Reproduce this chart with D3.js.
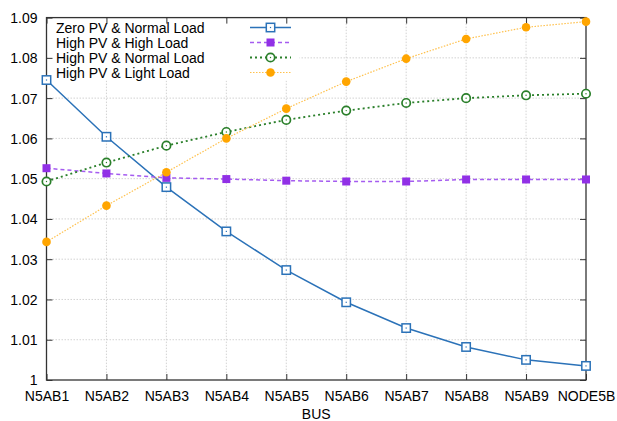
<!DOCTYPE html>
<html><head><meta charset="utf-8">
<script src="https://cdn.jsdelivr.net/npm/d3@7"></script>
<style>
html,body{margin:0;padding:0;background:#fff;}
text{font-family:"Liberation Sans",Arial,Helvetica,sans-serif;}
</style></head>
<body><svg id="chart" width="617" height="421"></svg>
<script>
const categories = ["N5AB1","N5AB2","N5AB3","N5AB4","N5AB5","N5AB6","N5AB7","N5AB8","N5AB9","NODE5B"];
const zeroPvNormal = [1.0745,1.0604,1.0479,1.0369,1.0273,1.0193,1.0129,1.0082,1.0050,1.0035];
const highPvHigh   = [1.0526,1.0513,1.0502,1.0499,1.0495,1.0493,1.0493,1.0498,1.0498,1.0498];
const highPvNormal = [1.0493,1.0540,1.0582,1.0616,1.0646,1.0669,1.0688,1.0700,1.0707,1.0711];
const highPvLight  = [1.0343,1.0433,1.0516,1.0600,1.0674,1.0741,1.0798,1.0847,1.0876,1.0890];
const yTicks = [1.00,1.01,1.02,1.03,1.04,1.05,1.06,1.07,1.08,1.09];
const seriesNames = ["Zero PV & Normal Load","High PV & High Load","High PV & Normal Load","High PV & Light Load"];
const xTitle = "BUS";

const series = [
  {name:seriesNames[0], values:zeroPvNormal, color:"#2b72b8", lineColor:"#2b72b8", dash:null, lw:1.5, marker:"openSquare"},
  {name:seriesNames[1], values:highPvHigh, color:"#9130e6", lineColor:"#a55cf0", dash:"4,3", lw:1.5, marker:"fillSquare"},
  {name:seriesNames[2], values:highPvNormal, color:"#2a7f2a", lineColor:"#2a7f2a", dash:"2,3", lw:1.8, marker:"openCircle"},
  {name:seriesNames[3], values:highPvLight, color:"#ffa500", lineColor:"#ffc14d", dash:"1.5,1.5", lw:1.2, marker:"fillCircle"}
];

const L=46.5, R=586, T=17.6, B=380;
const svg=d3.select("#chart");
const x=d3.scalePoint().domain(categories).range([L,R]);
const y=d3.scaleLinear().domain([1.0,1.09]).range([B,T]);

// grid
const grid=svg.append("g");
grid.selectAll("line.gy").data(yTicks.slice(1,-1)).join("line")
  .attr("x1",L).attr("x2",R).attr("y1",d=>y(d)).attr("y2",d=>y(d))
  .attr("stroke","#c8c8c8").attr("stroke-width",0.8).attr("stroke-dasharray","1.5,1.5");
grid.selectAll("line.gx").data(categories.slice(1,-1)).join("line")
  .attr("x1",d=>x(d)).attr("x2",d=>x(d)).attr("y1",T).attr("y2",B)
  .attr("stroke","#c8c8c8").attr("stroke-width",0.8).attr("stroke-dasharray","1.5,1.5");

// legend background (hides grid)
svg.append("rect").attr("x",L+1).attr("y",T+1).attr("width",252).attr("height",62).attr("fill","#fff");

// axes
const yFmt=d=>d===1?"1":d3.format(".2f")(d);
const yAxis=d3.axisLeft(y).tickValues(yTicks).tickFormat(yFmt).tickSize(-6).tickPadding(9);
const ga=svg.append("g").attr("transform",`translate(${L},0)`).call(yAxis);
const yAxisR=d3.axisRight(y).tickValues(yTicks).tickFormat("").tickSize(-6);
svg.append("g").attr("transform",`translate(${R},0)`).call(yAxisR);
const xAxis=d3.axisBottom(x).tickSize(-6).tickPadding(11);
const gx=svg.append("g").attr("transform",`translate(0,${B})`).call(xAxis);
const xAxisT=d3.axisTop(x).tickFormat("").tickSize(-6);
svg.append("g").attr("transform",`translate(0,${T})`).call(xAxisT);
svg.selectAll(".domain").remove();
svg.selectAll(".tick line").attr("stroke","#333").attr("stroke-width",1);
svg.selectAll(".tick text").attr("font-size","14px").attr("fill","#000")
  .attr("font-family","'Liberation Sans',Arial,sans-serif");
ga.selectAll(".tick text").attr("dy","0.35em");

// border
svg.append("rect").attr("x",L).attr("y",T).attr("width",R-L).attr("height",B-T)
  .attr("fill","none").attr("stroke","#333").attr("stroke-width",1.3);

// x title
svg.append("text").attr("x",(L+R)/2).attr("y",419).attr("text-anchor","middle")
  .attr("font-size","14px").text(xTitle);

function drawMarker(g,type,color,cx,cy){
  if(type==="openSquare"){
    g.append("rect").attr("x",cx-4.2).attr("y",cy-4.2).attr("width",8.4).attr("height",8.4)
      .attr("fill","#fff").attr("stroke",color).attr("stroke-width",1.5);
    g.append("rect").attr("x",cx-0.6).attr("y",cy-0.6).attr("width",1.2).attr("height",1.2).attr("fill",color);
  } else if(type==="fillSquare"){
    g.append("rect").attr("x",cx-4).attr("y",cy-4).attr("width",8).attr("height",8).attr("fill",color);
  } else if(type==="openCircle"){
    g.append("circle").attr("cx",cx).attr("cy",cy).attr("r",4.2)
      .attr("fill","#fff").attr("stroke",color).attr("stroke-width",1.7);
    g.append("circle").attr("cx",cx).attr("cy",cy).attr("r",0.7).attr("fill",color);
  } else {
    g.append("circle").attr("cx",cx).attr("cy",cy).attr("r",4.3).attr("fill",color);
  }
}

const line=d3.line().x((d,i)=>x(categories[i])).y(d=>y(d));
const plot=svg.append("g");
series.forEach(s=>{
  plot.append("path").datum(s.values).attr("d",line).attr("fill","none")
    .attr("stroke",s.lineColor).attr("stroke-width",s.lw)
    .attr("stroke-dasharray",s.dash);
});
series.forEach(s=>{
  const g=plot.append("g");
  s.values.forEach((v,i)=>drawMarker(g,s.marker,s.color,x(categories[i]),y(v)));
});

// legend
const leg=svg.append("g");
series.forEach((s,i)=>{
  const ly=27.5+i*15;
  leg.append("text").attr("x",56).attr("y",ly).attr("dy","0.36em").attr("font-size","14px").text(s.name);
  leg.append("line").attr("x1",250).attr("x2",291).attr("y1",ly).attr("y2",ly)
    .attr("stroke",s.lineColor).attr("stroke-width",s.lw).attr("stroke-dasharray",s.dash);
  drawMarker(leg,s.marker,s.color,270.5,ly);
});
</script></body></html>
